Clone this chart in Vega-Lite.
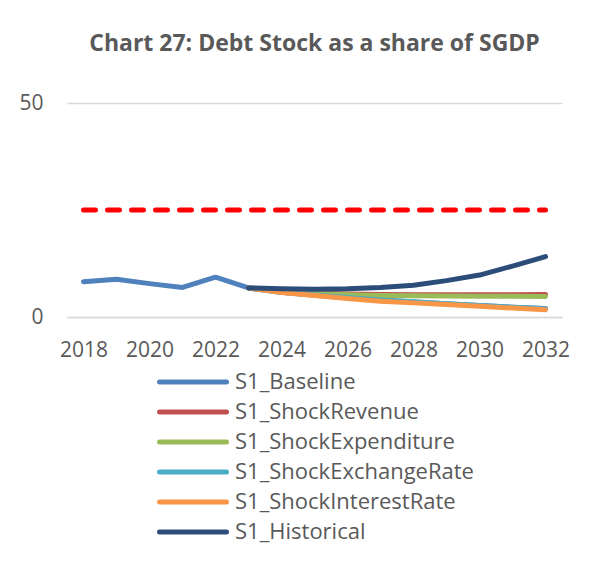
{
  "$schema": "https://vega.github.io/schema/vega-lite/v6.json",
  "autosize": "none",
  "width": 495,
  "height": 214,
  "padding": {"left": 67, "top": 103, "right": 34, "bottom": 245},
  "background": "white",
  "title": {
    "text": "Chart 27: Debt Stock as a share of SGDP",
    "font": "Open Sans",
    "fontSize": 23,
    "fontWeight": "bold",
    "color": "#595959",
    "anchor": "middle",
    "offset": 36
  },
  "config": {
    "view": {"stroke": null},
    "font": "Open Sans"
  },
  "datasets": {
    "limit": [
      {"year": 2018, "limit": 25},
      {"year": 2032, "limit": 25}
    ],
    "series": [
      {"year": 2018, "series": "S1_Baseline", "value": 8.25},
      {"year": 2019, "series": "S1_Baseline", "value": 8.8},
      {"year": 2020, "series": "S1_Baseline", "value": 7.8},
      {"year": 2021, "series": "S1_Baseline", "value": 6.9},
      {"year": 2022, "series": "S1_Baseline", "value": 9.3},
      {"year": 2023, "series": "S1_Baseline", "value": 6.8},
      {"year": 2024, "series": "S1_Baseline", "value": 5.8},
      {"year": 2025, "series": "S1_Baseline", "value": 5.1},
      {"year": 2026, "series": "S1_Baseline", "value": 4.5},
      {"year": 2027, "series": "S1_Baseline", "value": 4.0},
      {"year": 2028, "series": "S1_Baseline", "value": 3.5},
      {"year": 2029, "series": "S1_Baseline", "value": 3.1},
      {"year": 2030, "series": "S1_Baseline", "value": 2.7},
      {"year": 2031, "series": "S1_Baseline", "value": 2.3},
      {"year": 2032, "series": "S1_Baseline", "value": 2.0},

      {"year": 2023, "series": "S1_ShockRevenue", "value": 6.8},
      {"year": 2024, "series": "S1_ShockRevenue", "value": 6.05},
      {"year": 2025, "series": "S1_ShockRevenue", "value": 5.6},
      {"year": 2026, "series": "S1_ShockRevenue", "value": 5.35},
      {"year": 2027, "series": "S1_ShockRevenue", "value": 5.25},
      {"year": 2028, "series": "S1_ShockRevenue", "value": 5.2},
      {"year": 2029, "series": "S1_ShockRevenue", "value": 5.2},
      {"year": 2030, "series": "S1_ShockRevenue", "value": 5.2},
      {"year": 2031, "series": "S1_ShockRevenue", "value": 5.2},
      {"year": 2032, "series": "S1_ShockRevenue", "value": 5.25},

      {"year": 2023, "series": "S1_ShockExpenditure", "value": 6.8},
      {"year": 2024, "series": "S1_ShockExpenditure", "value": 6.0},
      {"year": 2025, "series": "S1_ShockExpenditure", "value": 5.5},
      {"year": 2026, "series": "S1_ShockExpenditure", "value": 5.2},
      {"year": 2027, "series": "S1_ShockExpenditure", "value": 5.05},
      {"year": 2028, "series": "S1_ShockExpenditure", "value": 4.95},
      {"year": 2029, "series": "S1_ShockExpenditure", "value": 4.9},
      {"year": 2030, "series": "S1_ShockExpenditure", "value": 4.85},
      {"year": 2031, "series": "S1_ShockExpenditure", "value": 4.85},
      {"year": 2032, "series": "S1_ShockExpenditure", "value": 4.8},

      {"year": 2023, "series": "S1_ShockExchangeRate", "value": 6.8},
      {"year": 2024, "series": "S1_ShockExchangeRate", "value": 5.8},
      {"year": 2025, "series": "S1_ShockExchangeRate", "value": 5.15},
      {"year": 2026, "series": "S1_ShockExchangeRate", "value": 4.55},
      {"year": 2027, "series": "S1_ShockExchangeRate", "value": 4.0},
      {"year": 2028, "series": "S1_ShockExchangeRate", "value": 3.55},
      {"year": 2029, "series": "S1_ShockExchangeRate", "value": 3.1},
      {"year": 2030, "series": "S1_ShockExchangeRate", "value": 2.7},
      {"year": 2031, "series": "S1_ShockExchangeRate", "value": 2.3},
      {"year": 2032, "series": "S1_ShockExchangeRate", "value": 1.9},

      {"year": 2023, "series": "S1_ShockInterestRate", "value": 6.8},
      {"year": 2024, "series": "S1_ShockInterestRate", "value": 5.7},
      {"year": 2025, "series": "S1_ShockInterestRate", "value": 5.0},
      {"year": 2026, "series": "S1_ShockInterestRate", "value": 4.3},
      {"year": 2027, "series": "S1_ShockInterestRate", "value": 3.7},
      {"year": 2028, "series": "S1_ShockInterestRate", "value": 3.3},
      {"year": 2029, "series": "S1_ShockInterestRate", "value": 2.9},
      {"year": 2030, "series": "S1_ShockInterestRate", "value": 2.5},
      {"year": 2031, "series": "S1_ShockInterestRate", "value": 2.1},
      {"year": 2032, "series": "S1_ShockInterestRate", "value": 1.7},

      {"year": 2023, "series": "S1_Historical", "value": 6.8},
      {"year": 2024, "series": "S1_Historical", "value": 6.6},
      {"year": 2025, "series": "S1_Historical", "value": 6.5},
      {"year": 2026, "series": "S1_Historical", "value": 6.6},
      {"year": 2027, "series": "S1_Historical", "value": 6.9},
      {"year": 2028, "series": "S1_Historical", "value": 7.4},
      {"year": 2029, "series": "S1_Historical", "value": 8.5},
      {"year": 2030, "series": "S1_Historical", "value": 9.8},
      {"year": 2031, "series": "S1_Historical", "value": 11.9},
      {"year": 2032, "series": "S1_Historical", "value": 14.1}
    ]
  },
  "layer": [
    {
      "data": {"name": "limit"},
      "mark": {"type": "line", "color": "#ff0000", "strokeWidth": 5, "strokeDash": [12, 12], "strokeCap": "round"},
      "encoding": {
        "x": {"field": "year", "type": "quantitative"},
        "y": {"field": "limit", "type": "quantitative"}
      }
    },
    {
      "data": {"name": "series"},
      "mark": {"type": "line", "strokeWidth": 5, "strokeCap": "round", "strokeJoin": "round"},
      "encoding": {
        "x": {
          "field": "year",
          "type": "quantitative",
          "scale": {"domain": [2017.5, 2032.5], "nice": false, "zero": false},
          "axis": {
            "title": null,
            "values": [2018, 2020, 2022, 2024, 2026, 2028, 2030, 2032],
            "format": "d",
            "ticks": false,
            "grid": false,
            "domainColor": "#d9d9d9",
            "domainWidth": 1.5,
            "labelFont": "Open Sans",
            "labelFontSize": 21,
            "labelColor": "#595959",
            "labelPadding": 22
          }
        },
        "y": {
          "field": "value",
          "type": "quantitative",
          "scale": {"domain": [0, 50], "nice": false},
          "axis": {
            "title": null,
            "values": [0, 50],
            "ticks": false,
            "domain": false,
            "gridColor": "#d9d9d9",
            "gridWidth": 1.5,
            "labelFont": "Open Sans",
            "labelFontSize": 21,
            "labelColor": "#595959",
            "labelPadding": 24
          }
        },
        "color": {
          "field": "series",
          "type": "nominal",
          "sort": null,
          "scale": {
            "domain": ["S1_Baseline", "S1_ShockRevenue", "S1_ShockExpenditure", "S1_ShockExchangeRate", "S1_ShockInterestRate", "S1_Historical"],
            "range": ["#4f81bd", "#c0504d", "#9bbb59", "#4bacc6", "#f79646", "#2c4d7a"]
          },
          "legend": {
            "title": null,
            "orient": "none",
            "legendX": 90,
            "legendY": 265,
            "direction": "vertical",
            "symbolType": "stroke",
            "symbolSize": 4489,
            "symbolStrokeWidth": 5,
            "clipHeight": 28,
            "rowPadding": 2,
            "labelFont": "Open Sans",
            "labelFontSize": 22,
            "labelColor": "#595959",
            "labelOffset": 6,
            "labelLimit": 0,
            "encode": {"symbols": {"update": {"strokeCap": {"value": "round"}}}}
          }
        }
      }
    }
  ]
}
